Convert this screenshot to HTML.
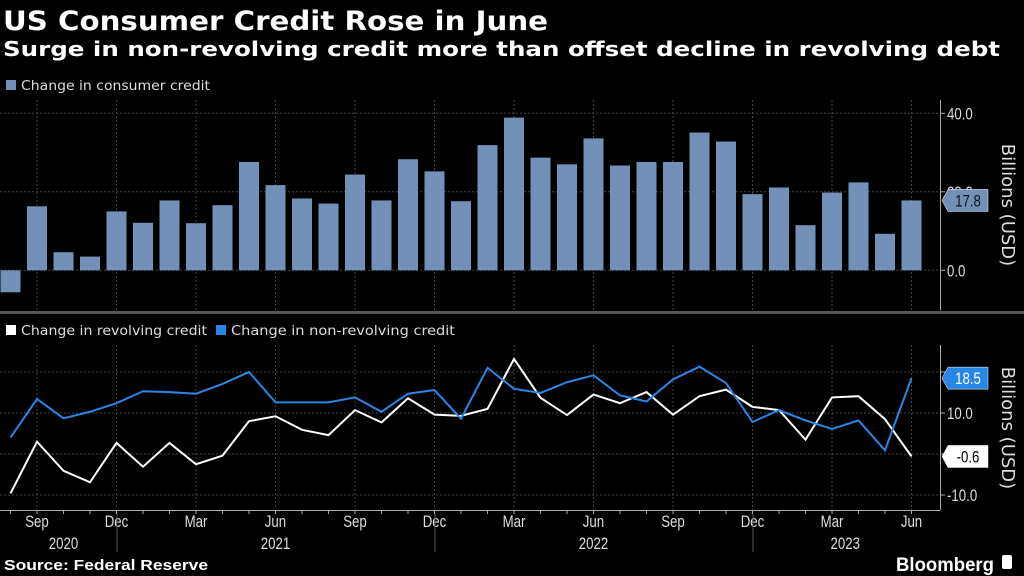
<!DOCTYPE html>
<html><head><meta charset="utf-8"><style>
body{margin:0;background:#000;width:1024px;height:576px;overflow:hidden;font-family:"Liberation Sans",sans-serif;color:#fff}
svg{position:absolute;left:0;top:0}
</style></head><body>
<svg id="c" width="1024" height="576">
<text x="3" y="30" font-size="27" font-weight="bold" fill="#fff" font-family="DejaVu Sans" textLength="545" lengthAdjust="spacingAndGlyphs">US Consumer Credit Rose in June</text>
<text x="3" y="56" font-size="20" font-weight="bold" fill="#fff" font-family="DejaVu Sans" textLength="997" lengthAdjust="spacingAndGlyphs">Surge in non-revolving credit more than offset decline in revolving debt</text>
<rect x="6" y="80" width="10" height="10" fill="#7390b8"/>
<text x="21" y="90" font-size="13" fill="#ddd" font-family="DejaVu Sans" textLength="189" lengthAdjust="spacingAndGlyphs">Change in consumer credit</text>
<rect x="6" y="325" width="10" height="10" fill="#fff"/>
<text x="21" y="335" font-size="13" fill="#ddd" font-family="DejaVu Sans" textLength="186" lengthAdjust="spacingAndGlyphs">Change in revolving credit</text>
<rect x="216" y="325" width="10" height="10" fill="#2a86e6"/>
<text x="231" y="335" font-size="13" fill="#ddd" font-family="DejaVu Sans" textLength="224" lengthAdjust="spacingAndGlyphs">Change in non-revolving credit</text>
<rect x="0" y="311" width="1024" height="3" fill="#555"/>
<g id="g"></g>
<text x="4" y="570" font-size="15" font-weight="bold" fill="#fff" textLength="204" lengthAdjust="spacingAndGlyphs">Source: Federal Reserve</text>
<text x="994" y="571" font-size="19" font-weight="bold" fill="#fff" text-anchor="end" textLength="98" lengthAdjust="spacingAndGlyphs">Bloomberg</text>
<rect x="1002" y="555" width="10" height="14" rx="2" fill="#fff"/>
</svg>
<script>
const months=['Aug','Sep','Oct','Nov','Dec','Jan','Feb','Mar','Apr','May','Jun','Jul','Aug','Sep','Oct','Nov','Dec','Jan','Feb','Mar','Apr','May','Jun','Jul','Aug','Sep','Oct','Nov','Dec','Jan','Feb','Mar','Apr','May','Jun'];
const consumer=[-5.6,16.3,4.6,3.5,15.0,12.1,17.8,12.0,16.6,27.6,21.7,18.3,17.0,24.4,17.8,28.3,25.2,17.6,31.9,38.9,28.7,27.0,33.6,26.7,27.6,27.6,35.1,32.8,19.4,21.1,11.5,19.8,22.4,9.3,17.8];
const nonrevolving=[4.0,13.4,8.7,10.3,12.4,15.3,15.1,14.7,17.1,20.0,12.6,12.6,12.6,13.8,10.3,14.7,15.6,8.6,21.0,15.9,14.9,17.5,19.2,14.3,12.8,18.2,21.3,17.3,7.8,10.7,8.2,6.1,8.2,0.9,18.5];
const revolving=[-9.6,3.0,-4.1,-6.9,2.7,-3.1,2.7,-2.5,-0.4,8.0,9.2,5.9,4.6,10.7,7.7,13.6,9.6,9.3,11.0,23.2,13.7,9.5,14.5,12.4,15.1,9.6,14.1,15.7,11.5,10.7,3.5,13.8,14.1,8.5,-0.6];
const topTicks=[0,20,40];
const botTicks=[-10,10];
const yearLabels=[['2020',2],['2021',10],['2022',22],['2023',31.5]];
const NS='http://www.w3.org/2000/svg';
const g=document.getElementById('g');
function mk(t,a,p){const e=document.createElementNS(NS,t);for(const k in a)e.setAttribute(k,a[k]);(p||g).appendChild(e);return e;}
const X=i=>10.5+i*26.5;
const Yt=v=>270.3-v*3.925;
const Yb=v=>454-v*4.1;
function narrow(t,x,y,size,anchor){const e=mk('text',{x:x,y:y,'font-size':size,fill:'#ddd','text-anchor':anchor||'start',transform:`translate(${x} ${y}) scale(0.78 1) translate(${-x} ${-y})`});e.textContent=t;return e;}
for(let i=1;i<months.length;i+=3){
 let l=mk('line',{x1:X(i),x2:X(i),y1:100,y2:310,stroke:'#444','stroke-dasharray':'2,2'});
 
 l=mk('line',{x1:X(i),x2:X(i),y1:345,y2:510,stroke:'#444','stroke-dasharray':'2,2'});
 
 const t=narrow(months[i],X(i),527,17,'middle');
 
}
for(let i=0;i<months.length;i++){mk('line',{x1:X(i),x2:X(i),y1:510,y2:514,stroke:'#aaa'});}
[4,16,28].forEach(i=>{const l=mk('line',{x1:X(i)+0.5,x2:X(i)+0.5,y1:514,y2:552,stroke:'#555'});});
yearLabels.forEach(([y,i])=>{const t=narrow(y,X(i),549,17,'middle');});
mk('line',{x1:0,x2:940,y1:510.5,y2:510.5,stroke:'#aaa'});
topTicks.forEach(v=>{const l=mk('line',{x1:0,x2:940,y1:Yt(v),y2:Yt(v),stroke:'#444','stroke-dasharray':'2,2'});
 mk('line',{x1:940,x2:945,y1:Yt(v),y2:Yt(v),stroke:'#aaa'});
 const t=narrow(v.toFixed(1),947,Yt(v)+6,17);});
botTicks.concat([0,20]).forEach(v=>{const l=mk('line',{x1:0,x2:940,y1:Yb(v),y2:Yb(v),stroke:'#444','stroke-dasharray':'2,2'});mk('line',{x1:940,x2:945,y1:Yb(v),y2:Yb(v),stroke:'#aaa'});});
botTicks.forEach(v=>{const t=narrow(v.toFixed(1),947,Yb(v)+6,17);});
mk('line',{x1:940.5,x2:940.5,y1:100,y2:310,stroke:'#aaa'});
mk('line',{x1:940.5,x2:940.5,y1:345,y2:510,stroke:'#aaa'});
consumer.forEach((v,i)=>{const r=mk('rect',{x:X(i)-10,y:Math.min(Yt(v),Yt(0)),width:20,height:Math.abs(Yt(v)-Yt(0)),fill:'#7390b8'});
 });
function line(arr,col,name){const p=mk('polyline',{points:arr.map((v,i)=>X(i)+','+Yb(v)).join(' '),fill:'none',stroke:col,'stroke-width':2});}
line(revolving,'#fff','line-revolving');
line(nonrevolving,'#2a86e6','line-nonrevolving');
function tag(y,txt,bg,fg,name){const p=mk('polygon',{points:`942,${y} 948,${y-11} 988,${y-11} 988,${y+11} 948,${y+11}`,fill:bg,stroke:'#fff','stroke-width':0.5});
 const t=narrow(txt,968,y+6,17,'middle');t.setAttribute('fill',fg);}
tag(Yt(consumer[34]),consumer[34].toFixed(1),'#7390b8','#111','last-value-consumer');
tag(Yb(nonrevolving[34]),nonrevolving[34].toFixed(1),'#2a86e6','#fff','last-value-nonrevolving');
tag(Yb(revolving[34]),revolving[34].toFixed(1),'#fff','#000','last-value-revolving');
[['y-axis-title-top',205],['y-axis-title-bottom',428]].forEach(([n,y])=>{const t=mk('text',{x:1002,y:y,'font-size':18,fill:'#ddd','text-anchor':'middle','font-family':'DejaVu Sans',transform:`rotate(90 1002 ${y})`});t.textContent='Billions (USD)';});
</script>
</body></html>
